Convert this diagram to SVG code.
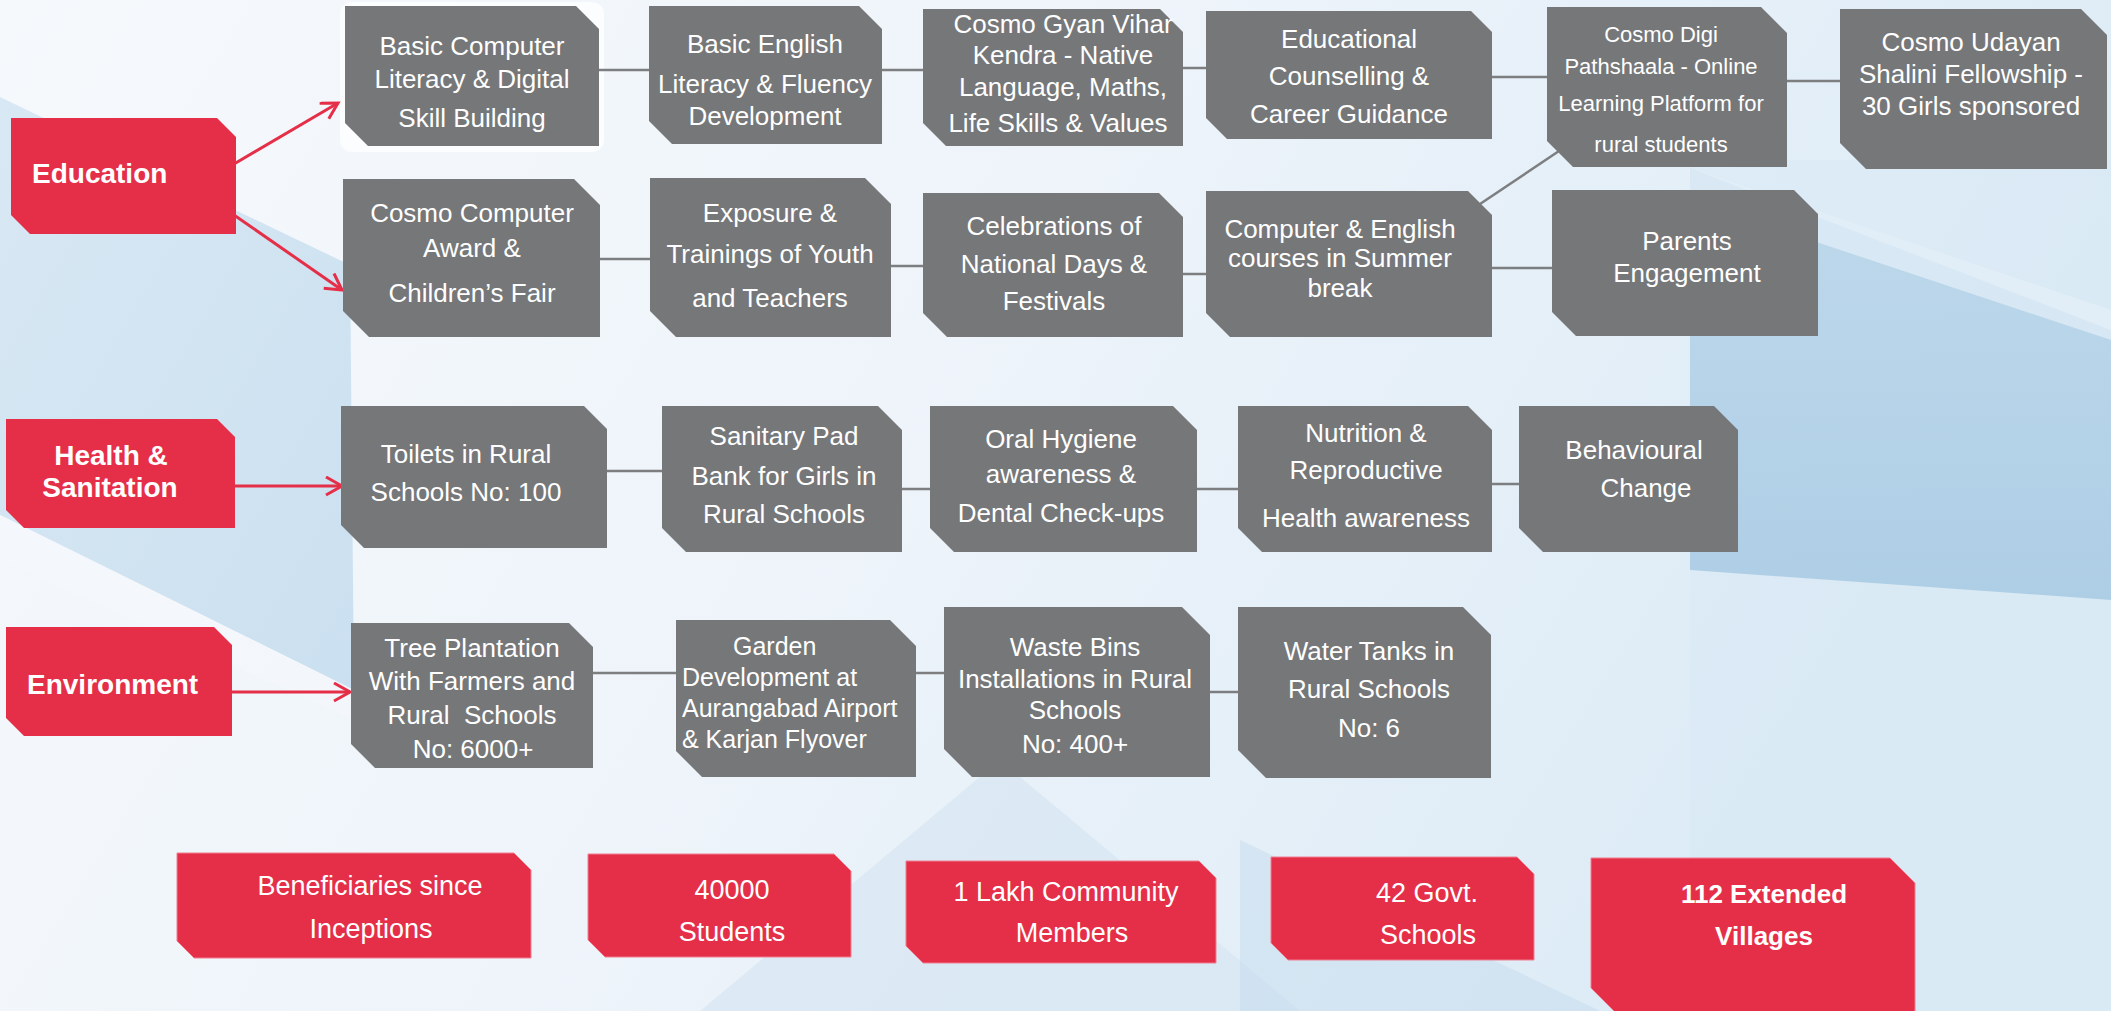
<svg xmlns="http://www.w3.org/2000/svg" width="2111" height="1011" viewBox="0 0 2111 1011">
<defs>
<linearGradient id="bg" x1="0" y1="0" x2="1" y2="0.3">
<stop offset="0" stop-color="#f6f9fc"/>
<stop offset="0.5" stop-color="#eef4fa"/>
<stop offset="1" stop-color="#dcebf6"/>
</linearGradient>
<linearGradient id="lp" x1="0" y1="0" x2="1" y2="1">
<stop offset="0" stop-color="#d3e5f2"/>
<stop offset="1" stop-color="#c4dcee"/>
</linearGradient>
<linearGradient id="rp" x1="0" y1="0" x2="0" y2="1">
<stop offset="0" stop-color="#bcd7ea"/>
<stop offset="1" stop-color="#a9cbe4"/>
</linearGradient>
<marker id="ah" markerUnits="userSpaceOnUse" markerWidth="22" markerHeight="22" refX="18" refY="10" orient="auto">
<path d="M2,1 L18,10 L2,19" fill="none" stroke="#e52f48" stroke-width="3"/>
</marker>
<style>
.g{fill:#767779}
.r{fill:#e52f48}
.rb{fill:#e52f48;stroke:#f07f90;stroke-width:1}
text{font-family:"Liberation Sans",Arial,sans-serif;fill:#ffffff}
.t{font-size:26px;text-anchor:middle}
.ts{font-size:22px;text-anchor:middle}
.tl{font-size:25px}
.cat{font-size:28px;font-weight:bold}
.bt{font-size:27px;text-anchor:middle}
.bb{font-size:26px;font-weight:bold;text-anchor:middle}
.conn line{stroke:#7d7e80;stroke-width:2.5}
.arr{stroke:#e52f48;stroke-width:3;fill:none;marker-end:url(#ah)}
</style>
</defs>

<g id="background">
<rect x="0" y="0" width="2111" height="1011" fill="url(#bg)"/>
<polygon points="0,97 350,265 354,690 0,515" fill="url(#lp)" opacity="0.85"/>
<polygon points="0,515 354,690 354,720 0,560" fill="#f4f8fc" opacity="0.8"/>
<polygon points="1690,160 2111,160 2111,1011 1690,1011" fill="#d9e9f5" opacity="0.6"/>
<polygon points="1690,168 2111,330 2111,600 1690,570" fill="url(#rp)" opacity="0.9"/>
<polygon points="1690,168 2111,310 2111,340 1690,200" fill="#e4eff8" opacity="0.7"/>
<polygon points="1000,760 1300,1011 700,1011" fill="#d3e5f2" opacity="0.6"/>
<polygon points="1240,840 1600,1011 1240,1011" fill="#c6dcee" opacity="0.5"/>
<rect x="340" y="2" width="264" height="150" rx="12" fill="#ffffff" opacity="0.75"/>
</g>

<g id="connectors" class="conn">
<line x1="599" y1="70" x2="649" y2="70"/>
<line x1="882" y1="70" x2="923" y2="70"/>
<line x1="1183" y1="68" x2="1206" y2="68"/>
<line x1="1492" y1="77" x2="1547" y2="77"/>
<line x1="1787" y1="81" x2="1840" y2="81"/>
<line x1="600" y1="259" x2="650" y2="259"/>
<line x1="891" y1="266" x2="923" y2="266"/>
<line x1="1183" y1="274" x2="1206" y2="274"/>
<line x1="1492" y1="268" x2="1552" y2="268"/>
<line x1="1480" y1="204" x2="1559" y2="151"/>
<line x1="607" y1="471" x2="662" y2="471"/>
<line x1="902" y1="489" x2="930" y2="489"/>
<line x1="1197" y1="489" x2="1238" y2="489"/>
<line x1="1492" y1="484" x2="1519" y2="484"/>
<line x1="593" y1="673" x2="676" y2="673"/>
<line x1="916" y1="673" x2="944" y2="673"/>
<line x1="1210" y1="692" x2="1238" y2="692"/>
<path class="arr" d="M234,164 L338,103"/>
<path class="arr" d="M234,215 L342,290"/>
<path class="arr" d="M235,486 L342,486"/>
<path class="arr" d="M232,692 L350,692"/>
</g>

<g id="education">
<path class="r" d="M11,118 H217 L236,137 V234 H30 L11,215 Z"/>
<text class="cat" x="32" y="183">Education</text>
</g>
<g id="basic-computer">
<path class="g" d="M345,6 H576 L599,29 V146 H368 L345,123 Z"/>
<text class="t" x="472" y="55">Basic Computer</text>
<text class="t" x="472" y="88">Literacy &amp; Digital</text>
<text class="t" x="472" y="127">Skill Building</text>
</g>
<g id="basic-english">
<path class="g" d="M649,6 H859 L882,29 V144 H672 L649,121 Z"/>
<text class="t" x="765" y="53">Basic English</text>
<text class="t" x="765" y="93">Literacy &amp; Fluency</text>
<text class="t" x="765" y="125">Development</text>
</g>
<g id="gyan-vihar">
<path class="g" d="M923,9 H1160 L1183,32 V146 H946 L923,123 Z"/>
<text class="t" x="1063" y="33">Cosmo Gyan Vihar</text>
<text class="t" x="1063" y="64">Kendra - Native</text>
<text class="t" x="1063" y="96">Language, Maths,</text>
<text class="t" x="1058" y="132">Life Skills &amp; Values</text>
</g>
<g id="counselling">
<path class="g" d="M1206,11 H1471 L1492,32 V139 H1227 L1206,118 Z"/>
<text class="t" x="1349" y="48">Educational</text>
<text class="t" x="1349" y="85">Counselling &amp;</text>
<text class="t" x="1349" y="123">Career Guidance</text>
</g>
<g id="digi-pathshaala">
<path class="g" d="M1547,7 H1761 L1787,33 V167 H1573 L1547,141 Z"/>
<text class="ts" x="1661" y="42">Cosmo Digi</text>
<text class="ts" x="1661" y="74">Pathshaala - Online</text>
<text class="ts" x="1661" y="111">Learning Platform for</text>
<text class="ts" x="1661" y="152">rural students</text>
</g>
<g id="udayan">
<path class="g" d="M1840,9 H2081 L2107,35 V169 H1866 L1840,143 Z"/>
<text class="t" x="1971" y="51">Cosmo Udayan</text>
<text class="t" x="1971" y="83">Shalini Fellowship -</text>
<text class="t" x="1971" y="115">30 Girls sponsored</text>
</g>
<g id="computer-award">
<path class="g" d="M343,179 H574 L600,205 V337 H369 L343,311 Z"/>
<text class="t" x="472" y="222">Cosmo Computer</text>
<text class="t" x="472" y="257">Award &amp;</text>
<text class="t" x="472" y="302">Children’s Fair</text>
</g>
<g id="exposure">
<path class="g" d="M650,178 H865 L891,204 V337 H676 L650,311 Z"/>
<text class="t" x="770" y="222">Exposure &amp;</text>
<text class="t" x="770" y="263">Trainings of Youth</text>
<text class="t" x="770" y="307">and Teachers</text>
</g>
<g id="celebrations">
<path class="g" d="M923,193 H1159 L1183,217 V337 H947 L923,313 Z"/>
<text class="t" x="1054" y="235">Celebrations of</text>
<text class="t" x="1054" y="273">National Days &amp;</text>
<text class="t" x="1054" y="310">Festivals</text>
</g>
<g id="summer-courses">
<path class="g" d="M1206,191 H1468 L1492,215 V337 H1230 L1206,313 Z"/>
<text class="t" x="1340" y="238">Computer &amp; English</text>
<text class="t" x="1340" y="267">courses in Summer</text>
<text class="t" x="1340" y="297">break</text>
</g>
<g id="parents">
<path class="g" d="M1552,190 H1794 L1818,214 V336 H1576 L1552,312 Z"/>
<text class="t" x="1687" y="250">Parents</text>
<text class="t" x="1687" y="282">Engagement</text>
</g>

<g id="health">
<path class="r" d="M6,419 H217 L235,437 V528 H24 L6,510 Z"/>
<text class="cat" x="111" y="465" text-anchor="middle">Health &amp;</text>
<text class="cat" x="110" y="497" text-anchor="middle">Sanitation</text>
</g>
<g id="toilets">
<path class="g" d="M341,406 H584 L607,429 V548 H364 L341,525 Z"/>
<text class="t" x="466" y="463">Toilets in Rural</text>
<text class="t" x="466" y="501">Schools No: 100</text>
</g>
<g id="sanitary-pad">
<path class="g" d="M662,406 H878 L902,430 V552 H686 L662,528 Z"/>
<text class="t" x="784" y="445">Sanitary Pad</text>
<text class="t" x="784" y="485">Bank for Girls in</text>
<text class="t" x="784" y="523">Rural Schools</text>
</g>
<g id="oral-hygiene">
<path class="g" d="M930,406 H1173 L1197,430 V552 H954 L930,528 Z"/>
<text class="t" x="1061" y="448">Oral Hygiene</text>
<text class="t" x="1061" y="483">awareness &amp;</text>
<text class="t" x="1061" y="522">Dental Check-ups</text>
</g>
<g id="nutrition">
<path class="g" d="M1238,406 H1468 L1492,430 V552 H1262 L1238,528 Z"/>
<text class="t" x="1366" y="442">Nutrition &amp;</text>
<text class="t" x="1366" y="479">Reproductive</text>
<text class="t" x="1366" y="527">Health awareness</text>
</g>
<g id="behavioural">
<path class="g" d="M1519,406 H1714 L1738,430 V552 H1543 L1519,528 Z"/>
<text class="t" x="1634" y="459">Behavioural</text>
<text class="t" x="1646" y="497">Change</text>
</g>

<g id="environment">
<path class="r" d="M6,627 H214 L232,645 V736 H24 L6,718 Z"/>
<text class="cat" x="27" y="694">Environment</text>
</g>
<g id="tree-plantation">
<path class="g" d="M351,623 H569 L593,647 V768 H375 L351,744 Z"/>
<text class="t" x="472" y="657">Tree Plantation</text>
<text class="t" x="472" y="690">With Farmers and</text>
<text class="t" x="472" y="724" xml:space="preserve">Rural  Schools</text>
<text class="t" x="473" y="758">No: 6000+</text>
</g>
<g id="garden">
<path class="g" d="M676,620 H890 L916,646 V777 H702 L676,751 Z"/>
<text class="tl" x="733" y="655">Garden</text>
<text class="tl" x="682" y="686">Development at</text>
<text class="tl" x="682" y="717">Aurangabad Airport</text>
<text class="tl" x="682" y="748">&amp; Karjan Flyover</text>
</g>
<g id="waste-bins">
<path class="g" d="M944,607 H1182 L1210,635 V777 H972 L944,749 Z"/>
<text class="t" x="1075" y="656">Waste Bins</text>
<text class="t" x="1075" y="688">Installations in Rural</text>
<text class="t" x="1075" y="719">Schools</text>
<text class="t" x="1075" y="753">No: 400+</text>
</g>
<g id="water-tanks">
<path class="g" d="M1238,607 H1463 L1491,635 V778 H1266 L1238,750 Z"/>
<text class="t" x="1369" y="660">Water Tanks in</text>
<text class="t" x="1369" y="698">Rural Schools</text>
<text class="t" x="1369" y="737">No: 6</text>
</g>

<g id="beneficiaries">
<path class="rb" d="M177,853 H514 L531,870 V958 H194 L177,941 Z"/>
<text class="bt" x="370" y="895">Beneficiaries since</text>
<text class="bt" x="371" y="938">Inceptions</text>
</g>
<g id="students">
<path class="rb" d="M588,854 H834 L851,871 V957 H605 L588,940 Z"/>
<text class="bt" x="732" y="899">40000</text>
<text class="bt" x="732" y="941">Students</text>
</g>
<g id="community">
<path class="rb" d="M906,861 H1199 L1216,878 V963 H923 L906,946 Z"/>
<text class="bt" x="1066" y="901">1 Lakh Community</text>
<text class="bt" x="1072" y="942">Members</text>
</g>
<g id="schools">
<path class="rb" d="M1271,857 H1517 L1534,874 V960 H1288 L1271,943 Z"/>
<text class="bt" x="1427" y="902">42 Govt.</text>
<text class="bt" x="1428" y="944">Schools</text>
</g>
<g id="villages">
<path class="rb" d="M1591,858 H1890 L1915,883 V1013 H1616 L1591,988 Z"/>
<text class="bb" x="1764" y="903">112 Extended</text>
<text class="bb" x="1764" y="945">Villages</text>
</g>
</svg>
